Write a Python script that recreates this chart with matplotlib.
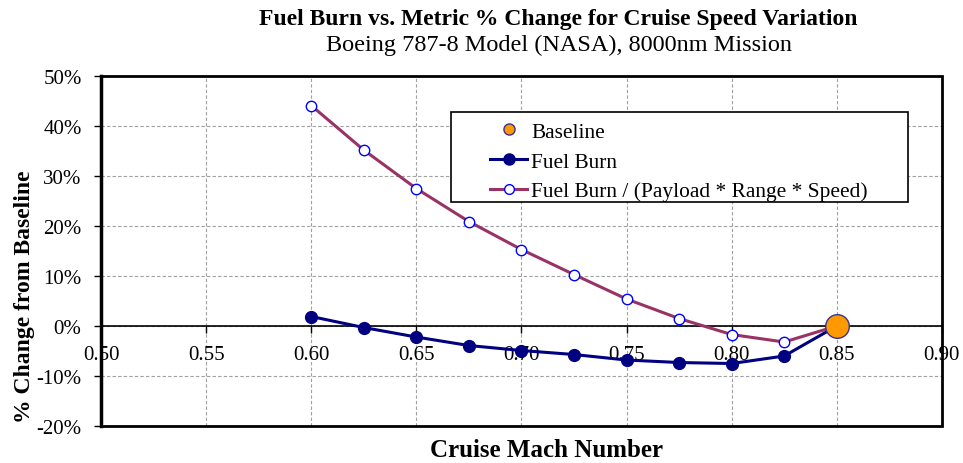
import numpy as np
import matplotlib.pyplot as plt
from matplotlib.lines import Line2D
from matplotlib.patches import Rectangle
from matplotlib.ticker import FuncFormatter

plt.rcParams['font.family'] = ['Liberation Serif', 'DejaVu Serif']

# cruise Mach numbers and % change from baseline
mach = [0.600, 0.625, 0.650, 0.675, 0.700, 0.725, 0.750, 0.775, 0.800, 0.825, 0.850]
fuel_burn = [0.019, -0.003, -0.022, -0.039, -0.049, -0.057, -0.068, -0.073, -0.075, -0.060, 0.0]
metric = [0.441, 0.352, 0.275, 0.209, 0.153, 0.103, 0.054, 0.015, -0.017, -0.032, 0.0]
baseline_mach = [0.85]
baseline_val = [0.0]

navy = '#000080'
plum = '#993366'

fig = plt.figure(figsize=(9.63, 4.64), dpi=100)
ax = fig.add_axes([0.1049, 0.0797, 0.8731, 0.7543])

ax.plot(mach, fuel_burn, color=navy, lw=2.2, marker='o', ms=8.5, mfc=navy, mec=navy, zorder=3)
ax.plot(mach, metric, color=plum, lw=2.2, marker='o', ms=7.5, mfc='white', mec='#0000FF', mew=1, zorder=3)
ax.plot(baseline_mach, baseline_val, ls='none', marker='o', ms=17, mfc='#FF9900', mec='#333399', mew=1, zorder=4)

ax.set_xlim(0.50, 0.90)
ax.set_ylim(-0.20, 0.50)
ax.set_xticks(np.arange(0.50, 0.901, 0.05))
ax.set_yticks(np.arange(-0.20, 0.501, 0.10))
ax.xaxis.set_major_formatter(FuncFormatter(lambda v, p: '%.2f' % v))
ax.yaxis.set_major_formatter(FuncFormatter(lambda v, p: '%d%%' % round(v * 100)))
ax.grid(True, color='#A0A0A0', ls=(0, (3, 2)), lw=0.8)
ax.set_axisbelow(True)

for s in ['top', 'right']:
    ax.spines[s].set_visible(False)
ax.spines['bottom'].set_position(('data', 0))
ax.spines['bottom'].set_linewidth(1.2)
ax.spines['left'].set_linewidth(2.5)
ax.add_patch(Rectangle((0, 0), 1, 1, transform=ax.transAxes, fill=False,
                       ec='black', lw=2, clip_on=False, zorder=5))

ax.tick_params(axis='x', direction='out', length=5, width=1, pad=9, labelsize=15)
ax.tick_params(axis='y', direction='out', length=5, width=1, pad=9, labelsize=15)

fig.text(0.58, 0.957, 'Fuel Burn vs. Metric % Change for Cruise Speed Variation',
         ha='center', va='center', fontsize=17, fontweight='bold')
fig.text(0.58, 0.902, 'Boeing 787-8 Model (NASA), 8000nm Mission',
         ha='center', va='center', fontsize=17.5)
fig.text(0.567, 0.03, 'Cruise Mach Number', ha='center', va='center',
         fontsize=18, fontweight='bold')
fig.text(0.025, 0.36, '% Change from Baseline', ha='center', va='center',
         rotation=90, fontsize=17, fontweight='bold')

# legend box drawn separately so the entries can sit off its left edge
fig.add_artist(Rectangle((451 / 963, 1 - 203 / 464), 457 / 963, 90 / 464,
                         transform=fig.transFigure, fill=True, fc='white',
                         ec='black', lw=1.2, zorder=6))
handles = [
    Line2D([], [], ls='none', marker='o', ms=8, mfc='#FF9900', mec='#333399'),
    Line2D([], [], color=navy, lw=2.2, marker='o', ms=8, mfc=navy, mec=navy),
    Line2D([], [], color=plum, lw=2.2, marker='o', ms=7, mfc='white', mec='#0000FF'),
]
labels = ['Baseline', 'Fuel Burn', 'Fuel Burn / (Payload * Range * Speed)']
leg = fig.legend(handles, labels, loc='upper left', bbox_to_anchor=(490 / 963, 1 - 123 / 464),
                 fontsize=15.4, frameon=False, handlelength=1.73, handletextpad=0.19,
                 borderpad=0, labelspacing=0.45, borderaxespad=0)
leg.set_zorder(7)

fig.savefig('out.png', dpi=100)
